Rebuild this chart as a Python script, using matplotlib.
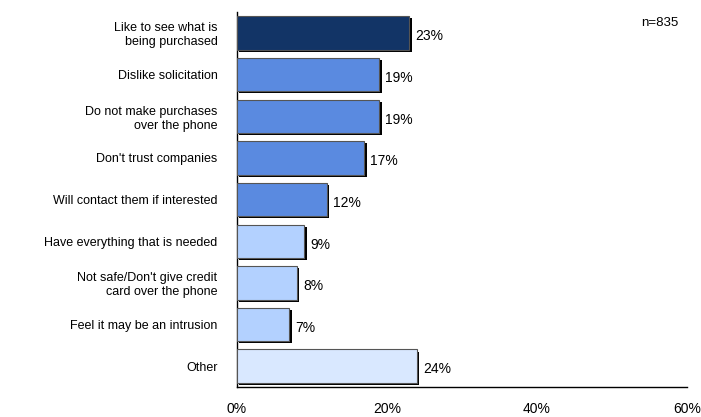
import matplotlib.pyplot as plt
import matplotlib.patheffects as pe

plt.rcParams['font.family'] = ['Liberation Sans', 'DejaVu Sans']

# reasons, top to bottom
reasons = [
    'Like to see what is\nbeing purchased',
    'Dislike solicitation',
    'Do not make purchases\nover the phone',
    "Don't trust companies",
    'Will contact them if interested',
    'Have everything that is needed',
    "Not safe/Don't give credit\ncard over the phone",
    'Feel it may be an intrusion',
    'Other',
]
percents = [23, 19, 19, 17, 12, 9, 8, 7, 24]
bar_colors = ['#123466', '#5a8ae0', '#5a8ae0', '#5a8ae0', '#5a8ae0',
              '#b3d1ff', '#b3d1ff', '#b3d1ff', '#d9e8ff']
xticks = [0, 20, 40, 60]
sample_size = 'n=835'

fig = plt.figure(figsize=(7.01, 4.17), dpi=100)
ax = fig.add_axes([0.338, 0.072, 0.642, 0.899])

ypos = list(range(len(reasons)))
bars = ax.barh(ypos, percents, height=0.8, color=bar_colors,
               edgecolor='#555555', linewidth=0.8, zorder=3)
for b in bars:
    b.set_path_effects([
        pe.SimplePatchShadow(offset=(1.5, -1.5), shadow_rgbFace='black', alpha=1),
        pe.Normal(),
    ])
    w = b.get_width()
    ax.text(w + 0.8, b.get_y() + b.get_height() / 2 + 0.08, f'{w:.0f}%',
            va='center', ha='left', fontsize=10)

ax.set_yticks(ypos)
ax.set_yticklabels(reasons, fontsize=9, multialignment='right')
ax.set_ylim(len(reasons) - 0.5, -0.5)
ax.set_xlim(0, 60)
ax.set_xticks(xticks)
ax.set_xticklabels([f'{t}%' for t in xticks], fontsize=10)
ax.tick_params(axis='both', length=0)
ax.tick_params(axis='x', pad=11)
ax.tick_params(axis='y', pad=14)

for s in ['top', 'right']:
    ax.spines[s].set_visible(False)
for s in ['left', 'bottom']:
    ax.spines[s].set_linewidth(1)
    ax.spines[s].set_color('black')

fig.text(0.968, 0.945, sample_size, ha='right', va='center', fontsize=9.5)

fig.savefig('out.png', dpi=100)
